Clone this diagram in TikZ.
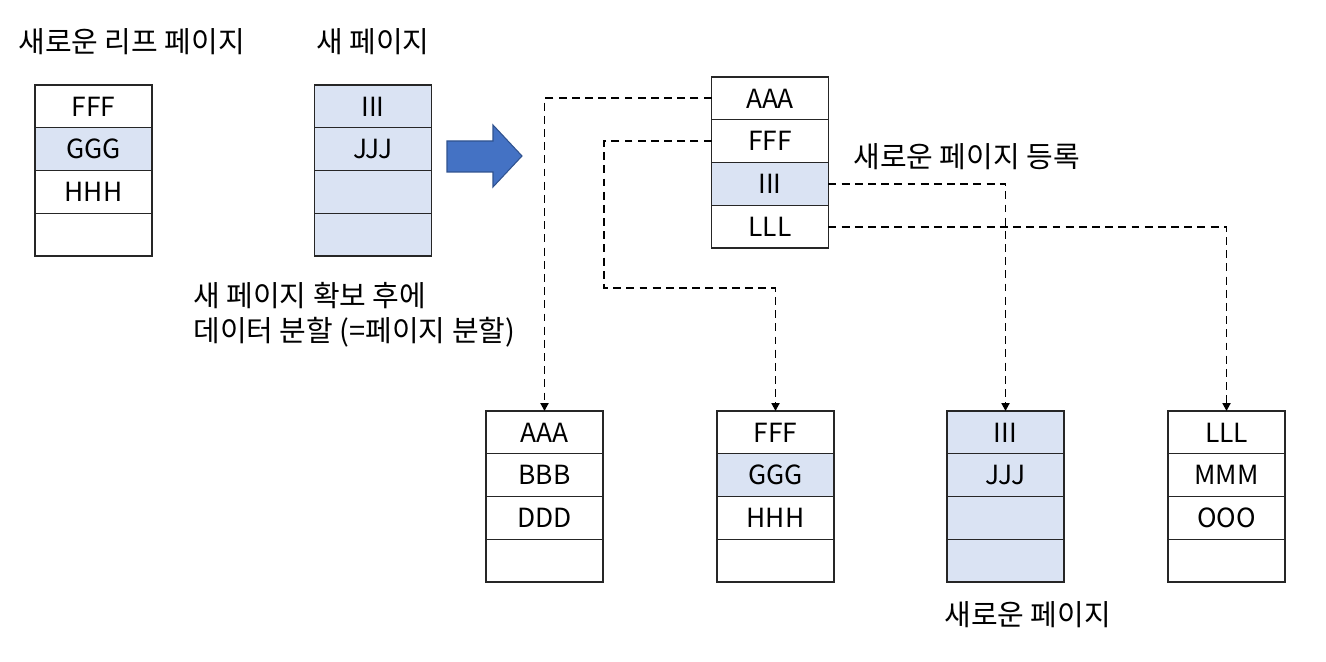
\documentclass[tikz,border=0pt]{standalone}
\usepackage{fontspec}
\setmainfont{Noto Sans CJK KR}
\usepackage{tikz}
\usetikzlibrary{positioning,arrows.meta}

\definecolor{pageblue}{HTML}{DAE3F3}
\definecolor{arrowblue}{HTML}{4472C4}
\definecolor{arrowedge}{HTML}{2F528F}

\tikzset{
  cell/.style={draw=black!85, line width=0.7pt, minimum width=2.34cm, minimum height=0.855cm,
    inner sep=0pt, outer sep=0pt, font=\fontsize{15}{17}\selectfont},
  bluecell/.style={cell, fill=pageblue},
  lbl/.style={anchor=west, inner sep=0pt, font=\fontsize{16.5}{19.8}\selectfont},
  link/.style={dash pattern=on 4.5pt off 3pt, line width=1.1pt, -{Triangle[length=4.5pt,width=4.5pt]}}
}

\begin{document}
\begin{tikzpicture}[x=0.02cm,y=-0.02cm, node distance=0pt]
\useasboundingbox (0,0) rectangle (1326,662);

% new leaf page
\node[lbl] (tleaf) at (18,42) {새로운 리프 페이지};
\node[cell] (l1) at (93.5,106.4) {FFF};
\node[bluecell, below=of l1] (l2) {GGG};
\node[cell, below=of l2] (l3) {HHH};
\node[cell, below=of l3] (l4) {};

% new page
\node[lbl] (tnew) at (316,42) {새 페이지};
\node[bluecell] (n1) at (373,106.4) {III};
\node[bluecell, below=of n1] (n2) {JJJ};
\node[bluecell, below=of n2] (n3) {};
\node[bluecell, below=of n3] (n4) {};

\node[lbl, align=left] (split) at (193,315) {새 페이지 확보 후에\\데이터 분할 (=페이지 분할)};

% big arrow
\draw[fill=arrowblue, draw=arrowedge, line width=0.6pt]
  (447,141) -- (493,141) -- (493,125) -- (522,156) -- (493,187) -- (493,172) -- (447,172) -- cycle;

% parent page
\node[cell] (ta) at (770,98.4) {AAA};
\node[cell, below=of ta] (tf) {FFF};
\node[bluecell, below=of tf] (ti) {III};
\node[cell, below=of ti] (tl) {LLL};
\node[lbl] (reg) at (853,157) {새로운 페이지 등록};

% child pages
\node[cell] (a1) at (544.5,432.4) {AAA};
\node[cell, below=of a1] (a2) {BBB};
\node[cell, below=of a2] (a3) {DDD};
\node[cell, below=of a3] (a4) {};

\node[cell] (b1) at (775.5,432.4) {FFF};
\node[bluecell, below=of b1] (b2) {GGG};
\node[cell, below=of b2] (b3) {HHH};
\node[cell, below=of b3] (b4) {};

\node[bluecell] (c1) at (1005.5,432.4) {III};
\node[bluecell, below=of c1] (c2) {JJJ};
\node[bluecell, below=of c2] (c3) {};
\node[bluecell, below=of c3] (c4) {};

\node[cell] (d1) at (1226.5,432.4) {LLL};
\node[cell, below=of d1] (d2) {MMM};
\node[cell, below=of d2] (d3) {OOO};
\node[cell, below=of d3] (d4) {};

\node[lbl] (newpg) at (944,615) {새로운 페이지};

% pointers
\coordinate (bend) at (604,288);
\draw[link] (ta.west) -| (a1.north);
\draw[link] (tf.west) -| (bend) -| (b1.north);
\draw[link] (ti.east) -| (c1.north);
\draw[link] (tl.east) -| (d1.north);
\end{tikzpicture}
\end{document}
